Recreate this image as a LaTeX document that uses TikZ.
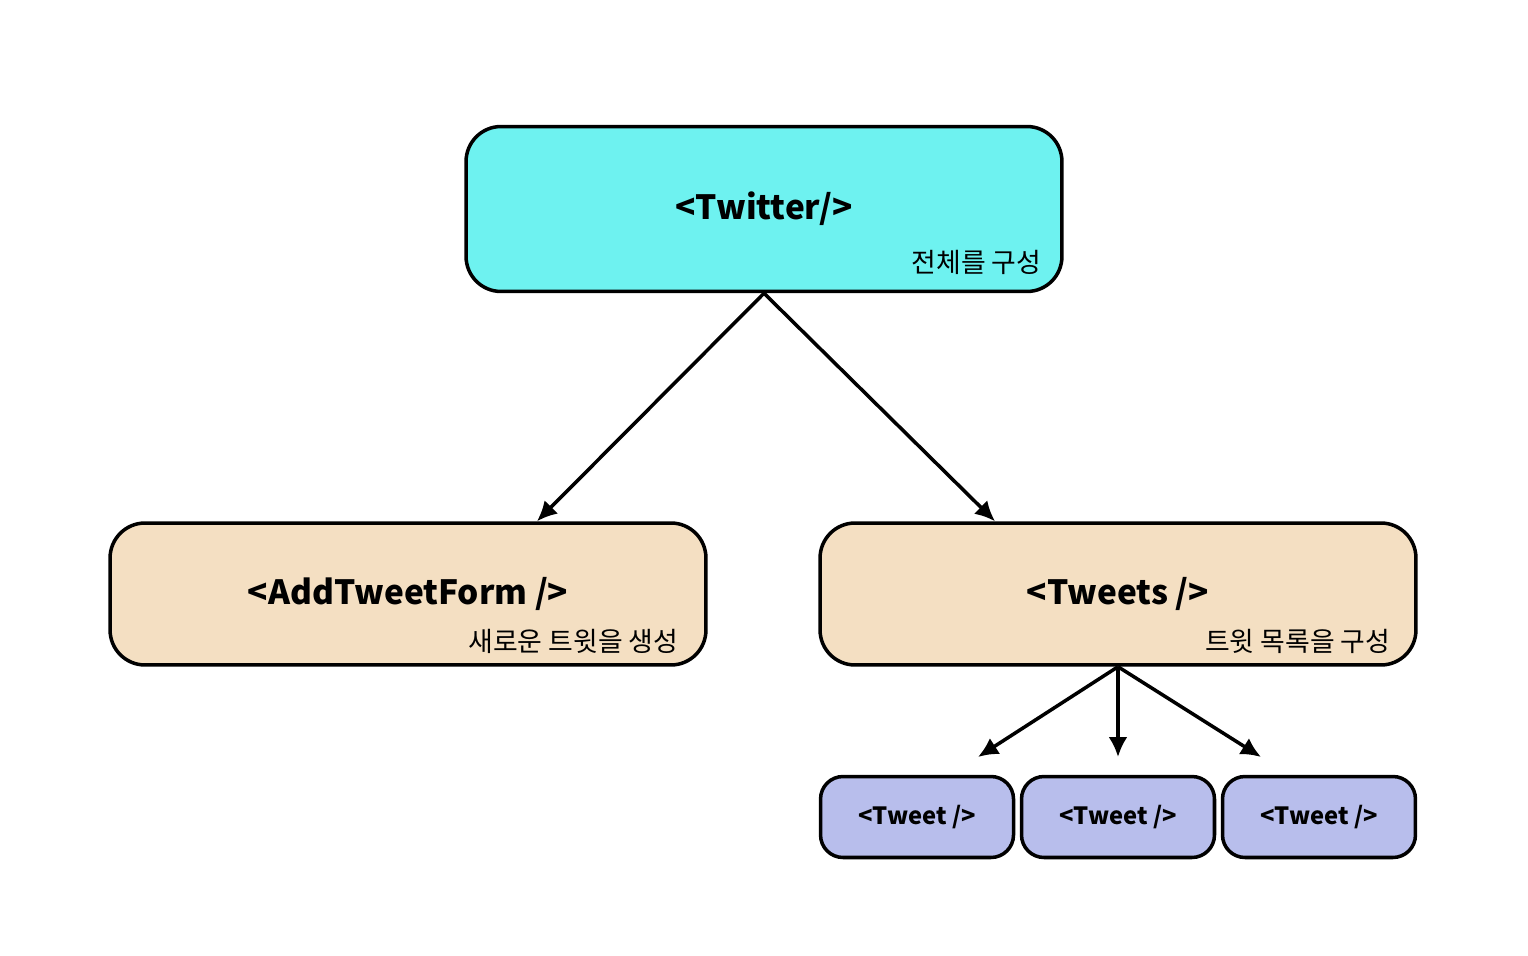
\documentclass[tikz,border=0pt]{standalone}
\usepackage{fontspec}
\setmainfont{Noto Sans CJK KR}
\usetikzlibrary{arrows.meta,
                positioning}
\definecolor{rootfill}{HTML}{6EF2F0}
\definecolor{midfill}{HTML}{F4DFC2}
\definecolor{leaffill}{HTML}{B8BEEC}
\tikzset{component/.style =
   {rectangle,
    rounded corners=0.7cm,
    draw,
    line width=2pt,
    text centered,
    font=\bfseries\fontsize{19}{24}\selectfont,
    minimum width=11.92cm}}
\tikzset{tweetbox/.style =
   {rectangle,
    rounded corners=0.45cm,
    draw,
    line width=2pt,
    fill=leaffill,
    font=\bfseries\fontsize{13.5}{16}\selectfont,
    minimum width=3.86cm,
    minimum height=1.62cm}}
\tikzset{note/.style = {anchor=east, inner sep=0pt,
    font=\fontsize{15.3}{18}\selectfont}}
\tikzset{arrow/.style = {draw, line width=2pt,
    -{Latex[length=0.4cm,width=0.38cm]}}}

\begin{document}
\begin{tikzpicture}[x=0.02cm, y=-0.02cm]

    \useasboundingbox (0,0) rectangle (1528,956);

    \node [component, fill=rootfill, minimum height=3.3cm] (twitter)
     at (764,209) {<Twitter/>};
    \node [component, fill=midfill, minimum height=2.84cm] (form)
     at (408,594) {<AddTweetForm />};
    \node [component, fill=midfill, minimum height=2.84cm] (tweets)
     at (1118,594) {<Tweets />};

    \node [note] (twitternote) at ([shift={(-22,-31)}]twitter.south east) {전체를 구성};
    \node [note] (formnote)    at ([shift={(-29,-25)}]form.south east)    {새로운 트윗을 생성};
    \node [note] (tweetsnote)  at ([shift={(-27,-25)}]tweets.south east)  {트윗 목록을 구성};

    % tweet list
    \node [tweetbox] (tweetb) at (1118,817) {<Tweet />};
    \node [tweetbox, left=0.09cm of tweetb]  (tweeta) {<Tweet />};
    \node [tweetbox, right=0.09cm of tweetb] (tweetc) {<Tweet />};

    \coordinate (formtop)   at ([shift={(129,0)}]form.north);
    \coordinate (tweetstop) at ([shift={(-123,0)}]tweets.north);
    \coordinate (enda) at (978,757);
    \coordinate (endb) at (1118,757);
    \coordinate (endc) at (1261,757);

    \draw [arrow] (twitter.south) -- (formtop);
    \draw [arrow] (twitter.south) -- (tweetstop);
    \foreach \e in {enda, endb, endc}
     \draw [arrow] (tweets.south) -- (\e);

\end{tikzpicture}
\end{document}
